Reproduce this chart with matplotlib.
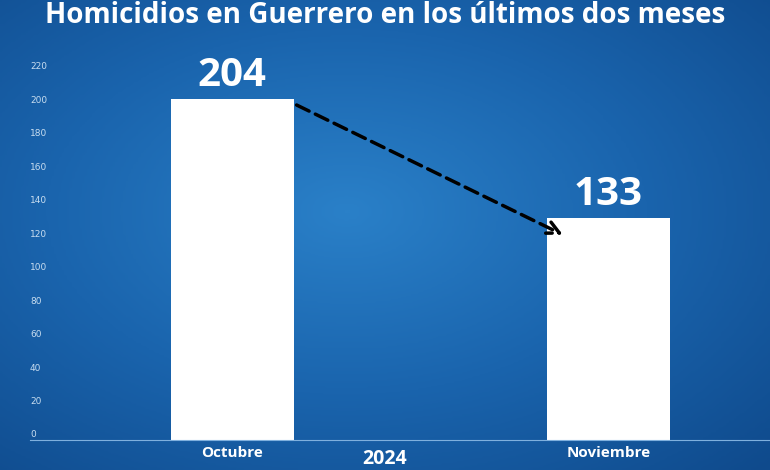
import numpy as np
import matplotlib.pyplot as plt
from matplotlib.transforms import blended_transform_factory

months = ['Octubre', 'Noviembre']
homicides = [204, 133]
yticks = list(range(0, 221, 20))

fig = plt.figure(figsize=(7.7, 4.7), dpi=100)

# blue background with darker edges
bg = fig.add_axes([0, 0, 1, 1])
yy, xx = np.mgrid[0:1:200j, 0:1:300j]
r = np.sqrt((xx - 0.45) ** 2 + (yy - 0.45) ** 2)
bg.imshow(r, cmap=plt.matplotlib.colors.LinearSegmentedColormap.from_list(
    'b', ['#2a80c8', '#1a64ad', '#0f4a8c']), aspect='auto', extent=[0, 1, 0, 1])
bg.axis('off')

ax = fig.add_axes([30 / 770, 30 / 470, 740 / 770, 368 / 470])
ax.patch.set_alpha(0)
x = np.arange(len(months))
ax.bar(x, homicides, width=0.327, color='white', zorder=2)
ax.set_xlim(-0.537, 1.43)
ax.set_ylim(0, 220)
for s in ['top', 'right', 'left']:
    ax.spines[s].set_visible(False)
ax.spines['bottom'].set_color('#7fb0de')
ax.spines['bottom'].set_linewidth(0.8)
ax.set_yticks([])
ax.set_xticks(x)
ax.set_xticklabels(months, color='white', fontsize=11, fontweight='bold', family='Open Sans')
ax.tick_params(axis='x', length=0, pad=4)

tr = blended_transform_factory(ax.transAxes, ax.transData)
for t in yticks:
    ax.text(0.0, t + 3, str(t), transform=tr, color='#c8ddf0', fontsize=6.5,
            ha='left', va='center')

for xi, v in zip(x, homicides):
    ax.text(xi, v + 2, str(v), color='white', fontsize=29, fontweight='bold',
            ha='center', va='bottom', family='Open Sans')

ax.annotate('', xy=(x[1] - 0.114, homicides[1] - 11), xytext=(x[0] + 0.165, homicides[0] - 3),
            arrowprops=dict(arrowstyle='->', color='black', lw=2.5, linestyle=(0, (4, 2)),
                            mutation_scale=22), zorder=3)

fig.text(0.5, 0.998, 'Homicidios en Guerrero en los últimos dos meses', color='white',
         fontsize=20, fontweight='bold', ha='center', va='top', family='Open Sans')
fig.text(0.5, 0.002, '2024', color='white', fontsize=14, fontweight='bold',
         ha='center', va='bottom', family='Open Sans')

fig.savefig('out.png', dpi=100)
